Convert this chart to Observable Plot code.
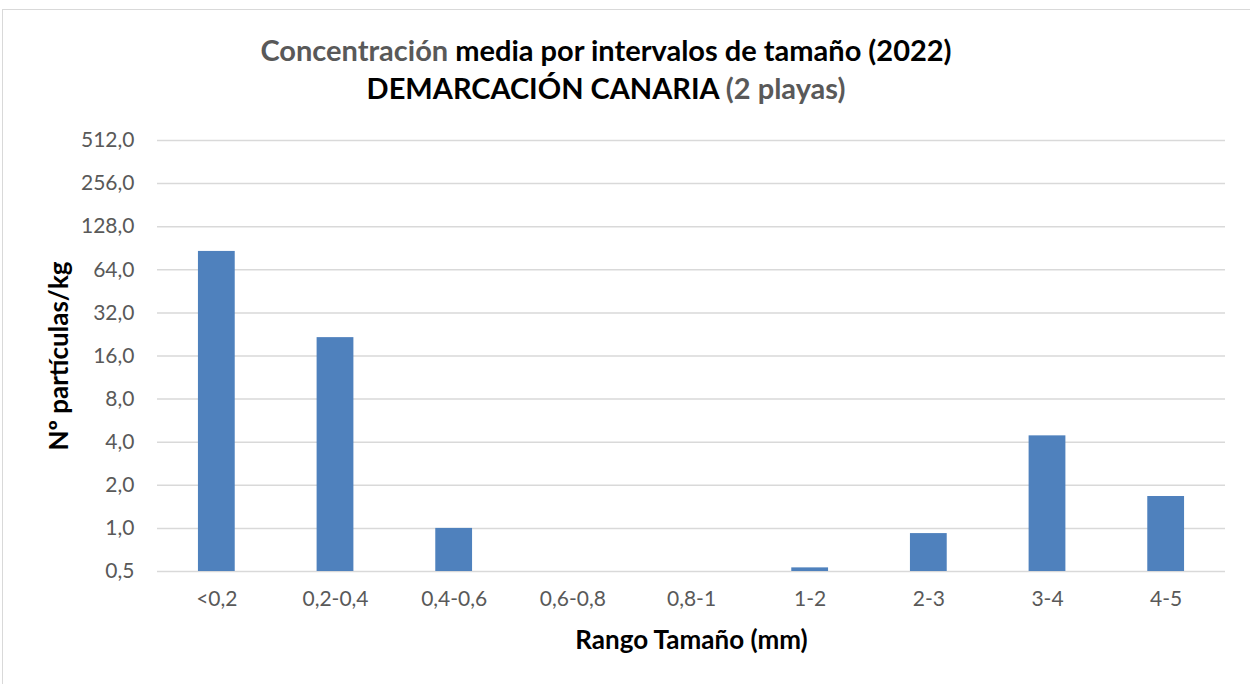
<!DOCTYPE html>
<html>
<head>
<meta charset="utf-8">
<script src="https://cdn.jsdelivr.net/npm/d3@7"></script>
<script src="https://cdn.jsdelivr.net/npm/@observablehq/plot@0.6"></script>
<style>
  html, body { margin: 0; padding: 0; background: #fff; }
  #wrap { position: relative; width: 1250px; height: 684px; overflow: hidden; font-family: Lato, sans-serif; }
  #frame { position: absolute; left: 2px; top: 9px; width: 1260px; height: 700px; border: 1px solid #d9d9d9; box-sizing: border-box; }
  #title { position: relative; height: 120px; box-sizing: border-box; padding-top: 31px; width: 1212px; text-align: center; font-weight: bold; font-size: 29px; line-height: 38px; color: #000; }
  #title .g { color: #595959; }
  #chart { position: relative; }
</style>
</head>
<body>
<div id="wrap">
  <div id="frame"></div>
  <div id="title"></div>
  <div id="chart"></div>
</div>
<script>
const categories = ["<0,2", "0,2-0,4", "0,4-0,6", "0,6-0,8", "0,8-1", "1-2", "2-3", "3-4", "4-5"];
const values = [86, 21.5, 1.0, 0, 0, 0.53, 0.92, 4.43, 1.67];
const yTicks = [0.5, 1, 2, 4, 8, 16, 32, 64, 128, 256, 512];
const titleLine1 = [["Concentración", true], [" media por intervalos de tamaño (2022)", false]];
const titleLine2 = [["DEMARCACIÓN CANARIA ", false], ["(2 playas)", true]];
const xLabel = "Rango Tamaño (mm)";
const yLabel = "Nº partículas/kg";

const title = document.getElementById("title");
for (const line of [titleLine1, titleLine2]) {
  const div = document.createElement("div");
  for (const [txt, gray] of line) {
    const s = document.createElement("span");
    s.textContent = txt;
    if (gray) s.className = "g";
    div.appendChild(s);
  }
  title.appendChild(div);
}

const data = categories.map((c, i) => ({cat: c, value: values[i]}));
const fmt = d => d.toFixed(1).replace(".", ",");

const chart = Plot.plot({
  width: 1250,
  height: 564,
  marginTop: 20,
  marginBottom: 113,
  marginLeft: 157,
  marginRight: 25,
  style: {fontFamily: "Lato, sans-serif", fontSize: "21px", background: "transparent", overflow: "visible"},
  x: {domain: categories, paddingInner: 0.69, paddingOuter: 0.345, round: false, label: null},
  y: {type: "log", base: 2, domain: [0.5, 512], label: null},
  marks: [
    Plot.ruleY(yTicks, {stroke: "#d9d9d9", strokeWidth: 1.5}),
    Plot.barY(data, {filter: d => d.value > 0, x: "cat", y1: 0.5, y2: "value", fill: "#4f81bd"}),
    Plot.axisY({ticks: yTicks, tickSize: 0, tickPadding: 23, tickFormat: fmt, fill: "#595959", fontSize: 21, label: null}),
    Plot.axisX({tickSize: 0, tickPadding: 20, fill: "#595959", fontSize: 21, label: null}),
    Plot.text([xLabel], {frameAnchor: "bottom", lineAnchor: "middle", textAnchor: "middle", dy: 69, text: d => d, fontWeight: "bold", fontSize: 26, fill: "#000"}),
    Plot.text([yLabel], {frameAnchor: "left", lineAnchor: "middle", textAnchor: "middle", dx: -98, rotate: -90, text: d => d, fontWeight: "bold", fontSize: 26, fill: "#000"})
  ]
});
document.getElementById("chart").appendChild(chart);
</script>
</body>
</html>
